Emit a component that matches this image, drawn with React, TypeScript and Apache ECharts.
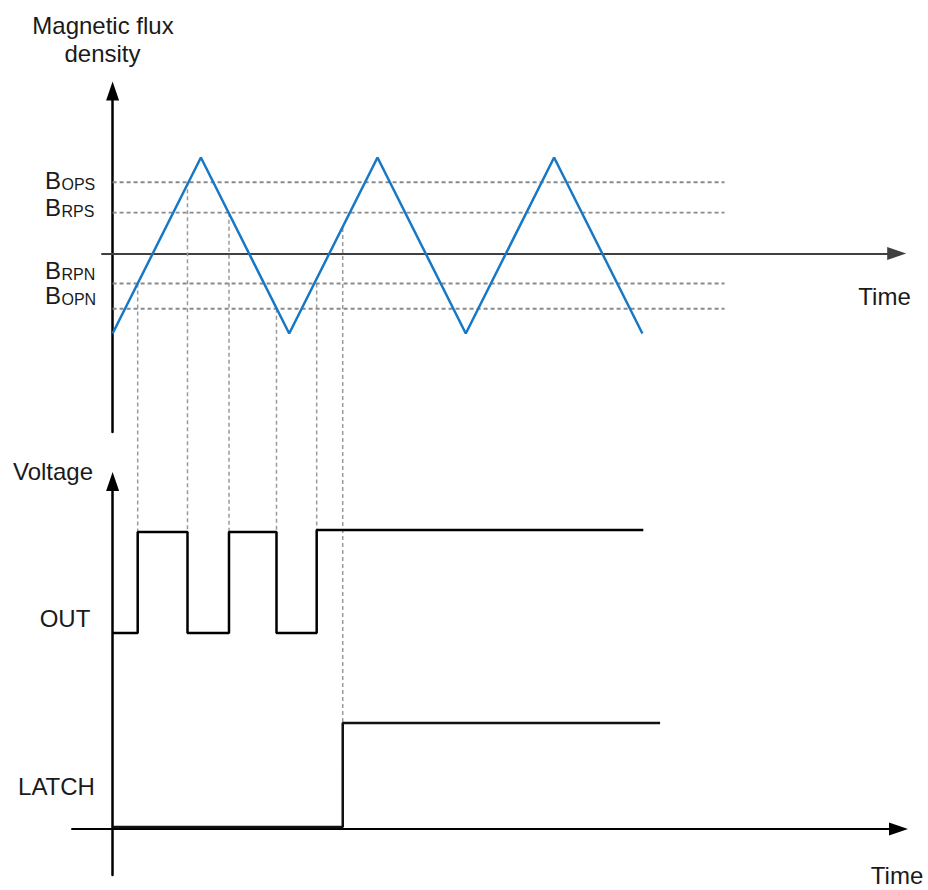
import React, { useEffect, useRef } from 'react';
import * as echarts from 'echarts';

// ---- data ----
const fluxTime = [0, 10, 20, 30, 40, 50, 60];
const fluxValue = [-10, 12, -10, 12, -10, 12, -10];
const thresholdSubs = ['OPS', 'RPS', 'RPN', 'OPN'];
const thresholdValues = [8.9, 5.1, -3.75, -6.9];
const thresholdSpan = [0, 69.3];
const outTime = [0, 2.84, 8.48, 13.18, 18.56, 23.11, 60.1];
const outLevel = [19.6, 29.7, 19.6, 29.7, 19.6, 29.9, 29.9];
const latchTime = [0, 26.06, 62.0];
const latchLevel = [0.2, 10.6, 10.6];
const guideTime = [2.84, 8.48, 13.18, 18.56, 23.11, 26.06];
const guideFlux = [-3.75, 8.9, 5.1, -6.9, -3.75, 3.2];
const guideVoltage = [29.7, 29.7, 29.7, 29.7, 29.9, 10.6];
const fluxTitle = ['Magnetic flux', 'density'];
const voltageTitle = 'Voltage';
const signalNames = ['OUT', 'LATCH'];
const timeLabel = 'Time';

// ---- layout (pixels) ----
const FONT = "'Liberation Sans', Arial, Helvetica, sans-serif";
const TXT = '#1a1a1a';
const bLabelY = [180.3, 207, 270.3, 295.7];
const signalLabelPos = [
  [65, 618],
  [56.5, 786.5],
];

export default function App() {
  const ref = useRef<HTMLDivElement>(null);
  useEffect(() => {
    document.body.style.margin = '0';
    document.body.style.overflow = 'hidden';
    const chart = echarts.init(ref.current!, null, { renderer: 'svg' });
    const axisCommon = {
      type: 'value',
      axisTick: { show: false },
      axisLabel: { show: false },
      splitLine: { show: false },
    };
    const arrow = { symbol: ['none', 'triangle'], symbolSize: [13, 19] };
    const option: any = {
      animation: false,
      backgroundColor: '#ffffff',
      grid: [
        { left: 102, top: 91, width: 794.7, height: 341 },
        { left: 72, top: 481.5, width: 826.5, height: 393.5 },
      ],
      xAxis: [
        {
          ...axisCommon,
          gridIndex: 0,
          min: -1.2,
          max: 88.8,
          axisLine: { onZero: true, ...arrow, lineStyle: { color: '#404040', width: 2 } },
        },
        {
          ...axisCommon,
          gridIndex: 1,
          min: -4.6,
          max: 89.0,
          axisLine: { onZero: true, ...arrow, lineStyle: { color: '#000', width: 2 } },
        },
      ],
      yAxis: [
        {
          ...axisCommon,
          gridIndex: 0,
          min: -22.3,
          max: 20.3,
          axisLine: { onZero: true, ...arrow, lineStyle: { color: '#000', width: 2.5 } },
        },
        {
          ...axisCommon,
          gridIndex: 1,
          min: -4.6,
          max: 34.75,
          axisLine: { onZero: true, ...arrow, lineStyle: { color: '#000', width: 2.5 } },
        },
      ],
      series: [
        ...thresholdValues.map((v, i) => ({
          name: 'B' + thresholdSubs[i],
          type: 'line',
          xAxisIndex: 0,
          yAxisIndex: 0,
          showSymbol: false,
          silent: true,
          z: 1,
          lineStyle: { color: '#8a8a8a', width: 1.8, type: [4, 3] },
          data: thresholdSpan.map((t) => [t, v]),
        })),
        {
          name: 'flux',
          type: 'line',
          xAxisIndex: 0,
          yAxisIndex: 0,
          showSymbol: false,
          silent: true,
          z: 3,
          lineStyle: { color: '#1778c6', width: 2.5 },
          data: fluxTime.map((t, i) => [t, fluxValue[i]]),
        },
        {
          name: 'OUT',
          type: 'line',
          step: 'end',
          xAxisIndex: 1,
          yAxisIndex: 1,
          showSymbol: false,
          silent: true,
          z: 3,
          lineStyle: { color: '#000', width: 2.5 },
          data: outTime.map((t, i) => [t, outLevel[i]]),
        },
        {
          name: 'LATCH',
          type: 'line',
          step: 'end',
          xAxisIndex: 1,
          yAxisIndex: 1,
          showSymbol: false,
          silent: true,
          z: 3,
          lineStyle: { color: '#111', width: 2.5 },
          data: latchTime.map((t, i) => [t, latchLevel[i]]),
        },
      ],
    };
    chart.setOption(option);

    const txt = (text: string, x: number, y: number, align: string, size = 24) => ({
      type: 'text',
      x,
      y,
      silent: true,
      style: { text, fill: TXT, font: `${size}px ${FONT}`, textAlign: align, textVerticalAlign: 'middle' },
    });

    const guides = guideTime.map((t, i) => {
      const p1 = chart.convertToPixel({ gridIndex: 0 } as any, [t, guideFlux[i]]) as number[];
      const p2 = chart.convertToPixel({ gridIndex: 1 } as any, [t, guideVoltage[i]]) as number[];
      return {
        type: 'line',
        silent: true,
        z: 1,
        shape: { x1: p1[0], y1: p1[1], x2: p2[0], y2: p2[1] },
        style: { stroke: '#9a9a9a', lineWidth: 1.5, lineDash: [4, 3] },
      };
    });

    const bLabels: any[] = [];
    thresholdSubs.forEach((s, i) => {
      bLabels.push(txt('B', 61, bLabelY[i], 'right', 24));
      bLabels.push(txt(s, 61.5, bLabelY[i] + 4.2, 'left', 16));
    });

    chart.setOption({
      graphic: [
        ...guides,
        txt(fluxTitle[0], 103, 25, 'center'),
        txt(fluxTitle[1], 102.5, 53.5, 'center'),
        ...bLabels,
        txt(timeLabel, 884.5, 296, 'center'),
        txt(voltageTitle, 53, 471.3, 'center'),
        txt(signalNames[0], signalLabelPos[0][0], signalLabelPos[0][1], 'center'),
        txt(signalNames[1], signalLabelPos[1][0], signalLabelPos[1][1], 'center'),
        txt(timeLabel, 897, 875.5, 'center'),
      ],
    });

    return () => chart.dispose();
  }, []);
  return <div ref={ref} style={{ width: 928, height: 890 }} />;
}
